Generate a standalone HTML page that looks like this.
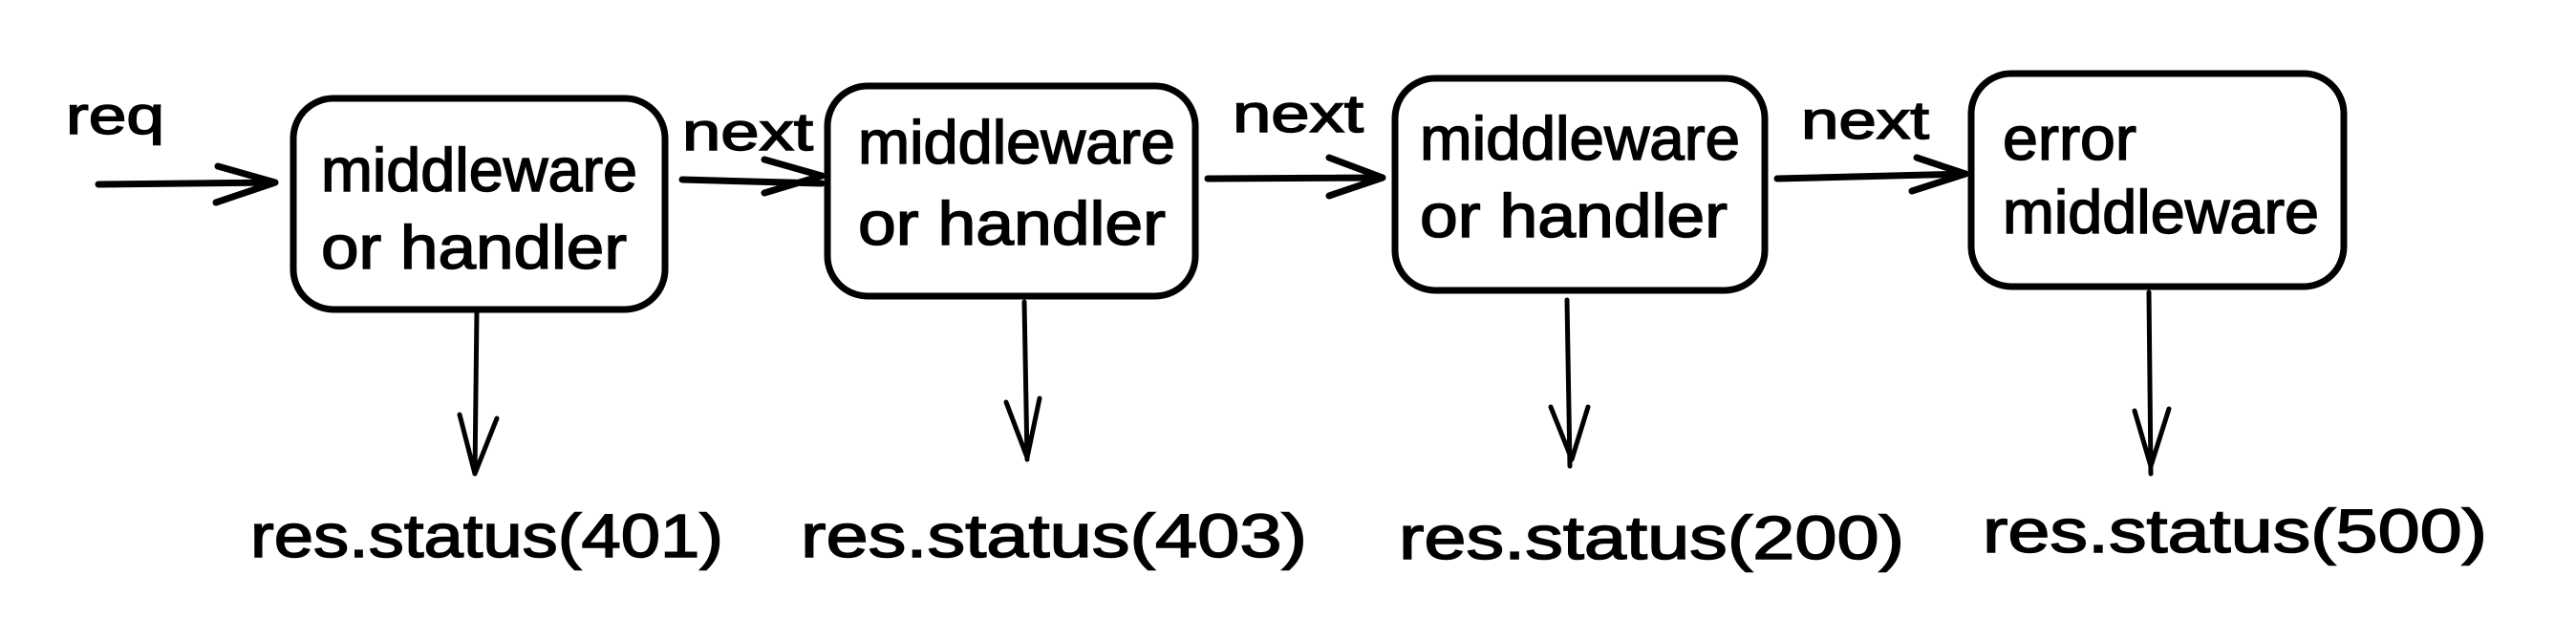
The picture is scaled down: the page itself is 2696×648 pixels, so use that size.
<!DOCTYPE html>
<html><head><meta charset="utf-8"><style>html,body{margin:0;padding:0;background:#fff}svg{display:block}</style></head>
<body>
<svg width="2696" height="648" viewBox="0 0 2696 648" xmlns="http://www.w3.org/2000/svg">
<rect width="2696" height="648" fill="#fff"/>
<g fill="none" stroke="#000" stroke-linecap="round" stroke-linejoin="round">
  <rect x="307" y="103" width="389" height="221" rx="42" stroke-width="7"/>
  <rect x="866" y="90" width="385" height="220" rx="42" stroke-width="7"/>
  <rect x="1460" y="82" width="387" height="222" rx="42" stroke-width="7"/>
  <rect x="2063" y="77" width="390" height="223" rx="42" stroke-width="7"/>
  <g stroke-width="7">
    <path d="M103 193 L288 191 M228 174 L288 191 L226 212"/>
    <path d="M714 188 L860 192 M800 167 L860 184 L800 202"/>
    <path d="M1264 187 L1447 186 M1391 165 L1447 186 L1391 205"/>
    <path d="M1860 187 L2057 182 M2006 165 L2057 182 L2001 200"/>
  </g>
  <g stroke-width="5">
    <path d="M499 326 L497 496 M481 434 L497 496 L520 438"/>
    <path d="M1072 316 L1075 481 M1053 421 L1075 479 L1088 417"/>
    <path d="M1640 314 L1643 488 M1623 426 L1645 481 L1662 426"/>
    <path d="M2249 306 L2251 496 M2234 430 L2251 488 L2270 428"/>
  </g>
</g>
<g font-family="Liberation Sans, sans-serif" fill="#000" stroke="#000" stroke-width="1.5" font-size="64">
  <text x="336" y="200" textLength="331" lengthAdjust="spacingAndGlyphs">middleware</text>
  <text x="336" y="281" textLength="320" lengthAdjust="spacingAndGlyphs">or handler</text>
  <text x="898" y="171" textLength="332" lengthAdjust="spacingAndGlyphs">middleware</text>
  <text x="898" y="256" textLength="322" lengthAdjust="spacingAndGlyphs">or handler</text>
  <text x="1486" y="167" textLength="335" lengthAdjust="spacingAndGlyphs">middleware</text>
  <text x="1486" y="248" textLength="322" lengthAdjust="spacingAndGlyphs">or handler</text>
  <text x="2096" y="167" textLength="140" lengthAdjust="spacingAndGlyphs">error</text>
  <text x="2096" y="244" textLength="331" lengthAdjust="spacingAndGlyphs">middleware</text>
  <text x="69" y="140" textLength="103" lengthAdjust="spacingAndGlyphs" font-size="56">req</text>
  <text x="714" y="157" textLength="137" lengthAdjust="spacingAndGlyphs" font-size="56">next</text>
  <text x="1290" y="138" textLength="137" lengthAdjust="spacingAndGlyphs" font-size="56">next</text>
  <text x="1885" y="145" textLength="134" lengthAdjust="spacingAndGlyphs" font-size="56">next</text>
  <g font-size="64">
    <text x="262" y="583" textLength="495" lengthAdjust="spacingAndGlyphs">res.status(401)</text>
    <text x="838" y="583" textLength="530" lengthAdjust="spacingAndGlyphs">res.status(403)</text>
    <text x="1464" y="585" textLength="529" lengthAdjust="spacingAndGlyphs">res.status(200)</text>
    <text x="2075" y="578" textLength="528" lengthAdjust="spacingAndGlyphs">res.status(500)</text>
  </g>
</g>
</svg>
</body></html>
